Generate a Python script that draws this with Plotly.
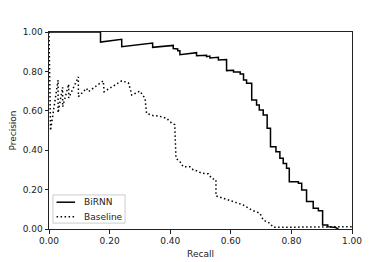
import plotly.graph_objects as go

# BiRNN precision-recall curve (vertices)
birnn_recall = [0.0, 0.17, 0.17, 0.24, 0.24, 0.342, 0.342, 0.41, 0.41, 0.425, 0.425, 0.432, 0.432,
                0.487, 0.487, 0.52, 0.52, 0.531, 0.531, 0.559, 0.559, 0.586, 0.586, 0.609, 0.609,
                0.631, 0.631, 0.642, 0.642, 0.652, 0.652, 0.669, 0.669, 0.685, 0.685, 0.694, 0.694,
                0.707, 0.707, 0.72, 0.72, 0.731, 0.731, 0.749, 0.749, 0.762, 0.762, 0.773, 0.773,
                0.784, 0.784, 0.793, 0.793, 0.823, 0.823, 0.834, 0.834, 0.850, 0.850, 0.872, 0.872,
                0.889, 0.889, 0.903, 0.903, 0.92, 0.92, 0.945, 0.955]
birnn_precision = [1.0, 1.0, 0.949, 0.963, 0.925, 0.944, 0.922, 0.932, 0.916, 0.914, 0.905, 0.905, 0.885,
                   0.895, 0.880, 0.882, 0.875, 0.878, 0.868, 0.872, 0.858, 0.860, 0.804, 0.806, 0.797,
                   0.797, 0.787, 0.787, 0.756, 0.756, 0.740, 0.740, 0.655, 0.655, 0.629, 0.629, 0.604,
                   0.604, 0.579, 0.579, 0.511, 0.511, 0.418, 0.418, 0.392, 0.392, 0.359, 0.359, 0.333,
                   0.333, 0.308, 0.308, 0.240, 0.240, 0.232, 0.232, 0.198, 0.198, 0.139, 0.139, 0.105,
                   0.105, 0.093, 0.093, 0.020, 0.020, 0.012, 0.008, 0.0]

# Baseline precision-recall curve
base_recall = [0.0, 0.005, 0.03, 0.03, 0.045, 0.045, 0.065, 0.065, 0.097, 0.097, 0.124, 0.13, 0.179,
               0.182, 0.24, 0.262, 0.27, 0.273, 0.30, 0.31, 0.317, 0.322, 0.345, 0.361, 0.388, 0.405,
               0.415, 0.419, 0.432, 0.443, 0.465, 0.476, 0.487, 0.504, 0.526, 0.537, 0.551, 0.551,
               0.575, 0.608, 0.641, 0.669, 0.696, 0.707, 0.729, 0.740, 0.80, 0.90, 1.0]
base_precision = [1.0, 0.5, 0.756, 0.59, 0.72, 0.62, 0.735, 0.665, 0.772, 0.672, 0.714, 0.697, 0.752,
                  0.697, 0.752, 0.742, 0.70, 0.68, 0.70, 0.68, 0.663, 0.587, 0.575, 0.574, 0.562, 0.537,
                  0.530, 0.359, 0.342, 0.316, 0.316, 0.30, 0.296, 0.283, 0.28, 0.257, 0.25, 0.168,
                  0.156, 0.139, 0.122, 0.096, 0.08, 0.046, 0.029, 0.009, 0.008, 0.010, 0.012]

series_names = ["BiRNN", "Baseline"]
tick_vals = [0.0, 0.2, 0.4, 0.6, 0.8, 1.0]
tick_text = ["0.00", "0.20", "0.40", "0.60", "0.80", "1.00"]

FONT = "DejaVu Sans"
DASHES = ["solid", "1.5px,2.5px"]

fig = go.Figure()
for name, xs, ys, dash in zip(series_names, [birnn_recall, base_recall],
                              [birnn_precision, base_precision], DASHES):
    fig.add_trace(go.Scatter(x=xs, y=ys, mode="lines", name=name, showlegend=False,
                             line=dict(color="black", width=1.5, dash=dash)))

axis_common = dict(range=[0, 1], tickvals=tick_vals, ticktext=tick_text, showgrid=False,
                   zeroline=False, showline=True, mirror=True, linecolor="#222", linewidth=1,
                   ticks="outside", ticklen=3.5, tickwidth=0.8, tickcolor="#222",
                   automargin=False,
                   tickfont=dict(family=FONT, size=9, color="#222"))

# compact matplotlib-style legend drawn in paper coordinates
legend_box = dict(type="rect", xref="paper", yref="paper", x0=0.013, x1=0.251, y0=0.030, y1=0.173,
                  line=dict(color="#cccccc", width=1), fillcolor="white", layer="above")
shapes = [legend_box]
annotations = []
for i, (name, dash) in enumerate(zip(series_names, DASHES)):
    yy = 0.136 - i * 0.074
    shapes.append(dict(type="line", xref="paper", yref="paper", x0=0.025, x1=0.086, y0=yy, y1=yy,
                       line=dict(color="black", width=1.5, dash=dash), layer="above"))
    annotations.append(dict(text=name, xref="paper", yref="paper", x=0.108, y=yy,
                            xanchor="left", yanchor="middle", showarrow=False,
                            font=dict(family=FONT, size=9, color="#222")))

# page body adds an 8px offset, so the figure is 8px smaller than the window
fig.update_layout(
    width=384, height=254,
    margin=dict(l=41, r=40, t=24, b=33, autoexpand=False),
    paper_bgcolor="white", plot_bgcolor="white",
    xaxis=dict(title=dict(text="Recall", font=dict(family=FONT, size=9, color="#222"),
                          standoff=5), **axis_common),
    yaxis=dict(title=dict(text="Precision", font=dict(family=FONT, size=9, color="#222"),
                          standoff=6), **axis_common),
    shapes=shapes,
    annotations=annotations,
    showlegend=False,
)

fig.write_html("out.html")
